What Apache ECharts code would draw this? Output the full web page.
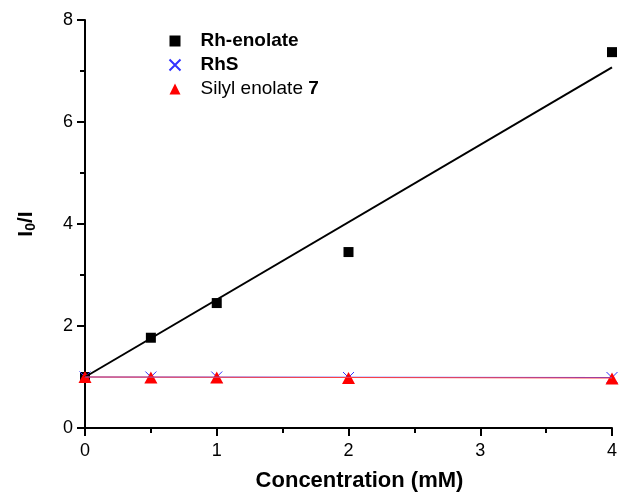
<!DOCTYPE html>
<html>
<head>
<meta charset="utf-8">
<script src="https://cdn.jsdelivr.net/npm/echarts@6/dist/echarts.min.js"></script>
<style>
  html, body { margin: 0; padding: 0; background: #fff; }
  #chart { width: 634px; height: 495px; }
</style>
</head>
<body>
<div id="chart"></div>
<script>
// values
const concentrations = [0, 0.5, 1, 2, 4];
const rhEnolate = [1.0, 1.77, 2.45, 3.45, 7.37];
const rhS = [1.0, 1.0, 1.0, 0.99, 0.99];
const silylEnolate = [1.0, 0.99, 0.99, 0.98, 0.97];

// fitted lines: endpoints
const fitX = [0, 4];
const rhEnolateFit = [1.0, 7.07];
const rhSFit = [1.0, 0.99];
const silylFit = [1.0, 0.98];

const xTicks = [0, 1, 2, 3, 4];
const yTicks = [0, 2, 4, 6, 8];

const FONT = 'Liberation Sans, Arial, sans-serif';
const CROSS = 'path://M0,0L10,10M10,0L0,10';

function pairs(xs, ys) {
    return xs.map((x, i) => [x, ys[i]]);
}

const chart = echarts.init(document.getElementById('chart'));

chart.setOption({
    animation: false,
    backgroundColor: '#fff',
    grid: { left: 85, right: 22, top: 20, bottom: 67, containLabel: false, outerBoundsMode: 'none' },
    legend: {
        left: 162,
        top: 26,
        orient: 'vertical',
        itemGap: 4,
        itemWidth: 11,
        itemHeight: 11,
        textStyle: {
            fontFamily: FONT,
            fontSize: 19,
            lineHeight: 20,
            color: '#000',
            padding: [0, 0, 0, 15],
            rich: {
                b: { fontFamily: FONT, fontSize: 19, fontWeight: 'bold', color: '#000' },
                n: { fontFamily: FONT, fontSize: 19, color: '#000' }
            }
        },
        formatter: function (name) {
            if (name === 'Silyl enolate 7') return '{n|Silyl enolate }{b|7}';
            return '{b|' + name + '}';
        },
        data: ['Rh-enolate', 'RhS', 'Silyl enolate 7']
    },
    xAxis: {
        type: 'value',
        min: xTicks[0],
        max: xTicks[xTicks.length - 1],
        interval: 1,
        name: 'Concentration (mM)',
        nameLocation: 'middle',
        nameGap: 42,
        nameMoveOverlap: false,
        nameTextStyle: { fontFamily: FONT, fontSize: 22, fontWeight: 'bold', color: '#000', padding: [0, 0, 0, 22] },
        axisLine: { lineStyle: { color: '#000', width: 2 } },
        axisTick: { inside: false, length: 8, lineStyle: { width: 2, color: '#000' } },
        minorTick: { show: true, splitNumber: 2, length: 5, lineStyle: { width: 2, color: '#000' } },
        splitLine: { show: false },
        axisLabel: { fontFamily: FONT, fontSize: 18, color: '#000', margin: 14 }
    },
    yAxis: {
        type: 'value',
        min: yTicks[0],
        max: yTicks[yTicks.length - 1],
        interval: 2,
        name: '{i|I}{s|0}{i|/I}',
        nameLocation: 'middle',
        nameGap: 47,
        nameMoveOverlap: false,
        nameRotate: 90,
        nameTextStyle: {
            rich: {
                i: { fontFamily: FONT, fontSize: 21, fontWeight: 'bold', color: '#000' },
                s: { fontFamily: FONT, fontSize: 14, fontWeight: 'bold', color: '#000', verticalAlign: 'bottom', padding: [9, 0, 0, 0] }
            }
        },
        axisLine: { lineStyle: { color: '#000', width: 2 } },
        axisTick: { inside: false, length: 8, lineStyle: { width: 2, color: '#000' } },
        minorTick: { show: true, splitNumber: 2, length: 5, lineStyle: { width: 2, color: '#000' } },
        splitLine: { show: false },
        axisLabel: { fontFamily: FONT, fontSize: 18, color: '#000', margin: 12 }
    },
    series: [
        {
            name: 'Rh-enolate fit',
            type: 'line',
            data: pairs(fitX, rhEnolateFit),
            symbol: 'none',
            lineStyle: { color: '#000', width: 2 },
            silent: true
        },
        {
            name: 'RhS fit',
            type: 'line',
            data: pairs(fitX, rhSFit),
            symbol: 'none',
            lineStyle: { color: '#3a3aff', width: 1.2 },
            silent: true
        },
        {
            name: 'Silyl fit',
            type: 'line',
            data: pairs(fitX, silylFit),
            symbol: 'none',
            lineStyle: { color: '#ff4040', width: 1 },
            silent: true
        },
        {
            name: 'Rh-enolate',
            type: 'scatter',
            data: pairs(concentrations, rhEnolate),
            symbol: 'rect',
            symbolSize: 10,
            itemStyle: { color: '#000', opacity: 1 },
            clip: false
        },
        {
            name: 'RhS',
            type: 'scatter',
            data: pairs(concentrations, rhS),
            symbol: CROSS,
            symbolSize: 11,
            itemStyle: { color: 'none', borderColor: '#3333ff', borderWidth: 1, opacity: 1 },
            clip: false
        },
        {
            name: 'Silyl enolate 7',
            type: 'scatter',
            data: pairs(concentrations, silylEnolate),
            symbol: 'triangle',
            symbolSize: [13, 12],
            itemStyle: { color: '#ff0000', opacity: 1 },
            clip: false
        }
    ]
});

window.addEventListener('resize', () => chart.resize());
</script>
</body>
</html>
